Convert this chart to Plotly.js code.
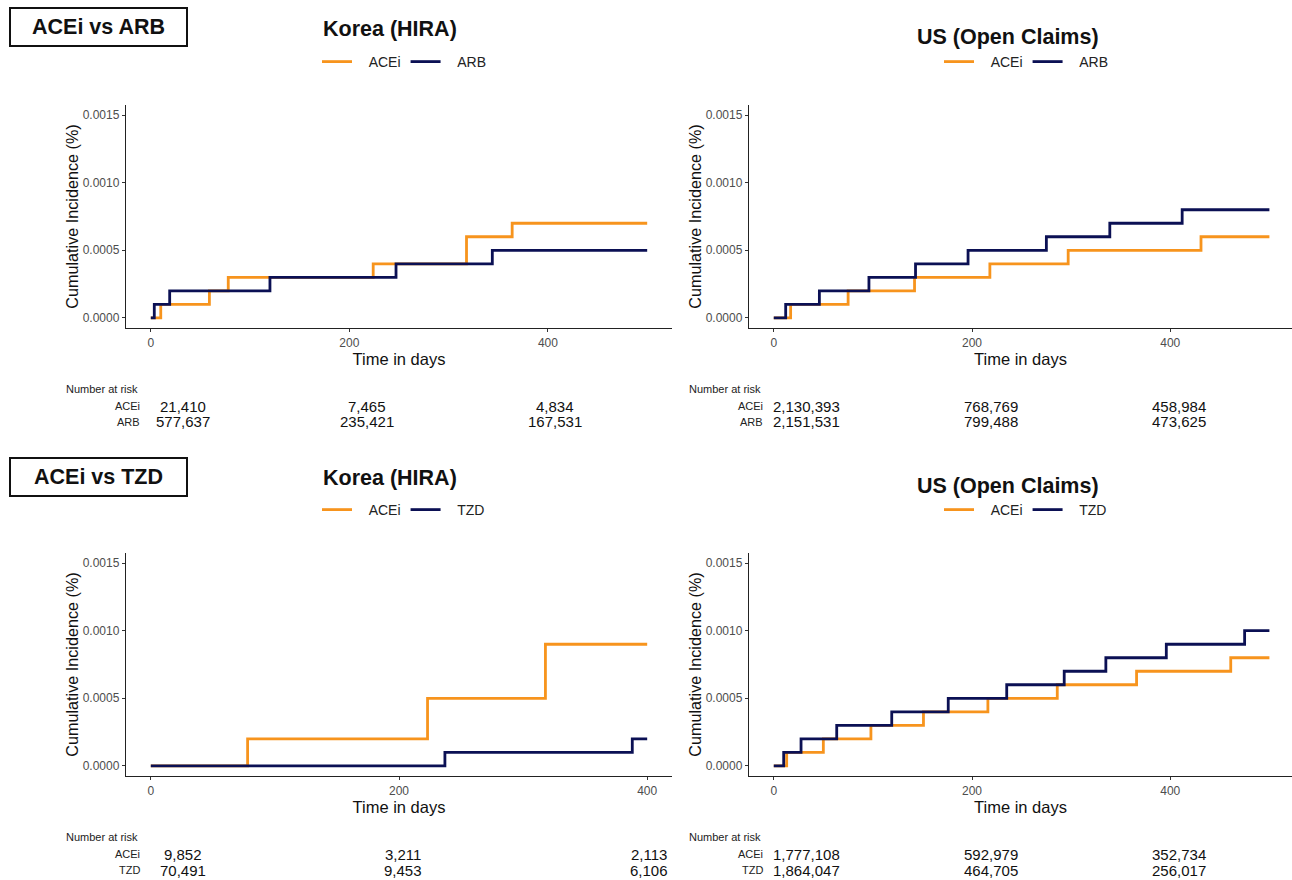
<!DOCTYPE html>
<html>
<head>
<meta charset="utf-8">
<script src="https://cdn.plot.ly/plotly-3.0.1.min.js"></script>
<style>
  html, body { margin: 0; padding: 0; background: #ffffff; }
  #chart { width: 1292px; height: 880px; }
</style>
</head>
<body>
<div id="chart"></div>
<script>
// ---------------- DATA ----------------
// Panel A: ACEi vs ARB, Korea (HIRA)
const krArbAceiDays = [0, 10, 59, 78, 224, 318, 364, 500];
const krArbAceiInc  = [0, 0.0001, 0.0002, 0.0003, 0.0004, 0.0006, 0.0007, 0.0007];
const krArbArbDays  = [0, 3.5, 19, 120, 247, 344, 500];
const krArbArbInc   = [0, 0.0001, 0.0002, 0.0003, 0.0004, 0.0005, 0.0005];

// Panel B: ACEi vs ARB, US (Open Claims)
const usArbAceiDays = [0, 17, 75, 142, 218, 297, 431, 500];
const usArbAceiInc  = [0, 0.0001, 0.0002, 0.0003, 0.0004, 0.0005, 0.0006, 0.0006];
const usArbArbDays  = [0, 12, 46, 96, 143, 196, 275, 339, 412, 500];
const usArbArbInc   = [0, 0.0001, 0.0002, 0.0003, 0.0004, 0.0005, 0.0006, 0.0007, 0.0008, 0.0008];

// Panel C: ACEi vs TZD, Korea (HIRA)
const krTzdAceiDays = [0, 78, 223, 318, 400];
const krTzdAceiInc  = [0, 0.0002, 0.0005, 0.0009, 0.0009];
const krTzdTzdDays  = [0, 237, 388, 400];
const krTzdTzdInc   = [0, 0.0001, 0.0002, 0.0002];

// Panel D: ACEi vs TZD, US (Open Claims)
const usTzdAceiDays = [0, 13, 50, 98, 151, 216, 286, 366, 461, 500];
const usTzdAceiInc  = [0, 0.0001, 0.0002, 0.0003, 0.0004, 0.0005, 0.0006, 0.0007, 0.0008, 0.0008];
const usTzdTzdDays  = [0, 10, 27.5, 63.5, 119, 176, 235, 293, 335, 396, 475, 500];
const usTzdTzdInc   = [0, 0.0001, 0.0002, 0.0003, 0.0004, 0.0005, 0.0006, 0.0007, 0.0008, 0.0009, 0.0010, 0.0010];

// Number at risk
const riskArbKrAcei = ["21,410", "7,465", "4,834"];
const riskArbKrArb  = ["577,637", "235,421", "167,531"];
const riskArbUsAcei = ["2,130,393", "768,769", "458,984"];
const riskArbUsArb  = ["2,151,531", "799,488", "473,625"];
const riskTzdKrAcei = ["9,852", "3,211", "2,113"];
const riskTzdKrTzd  = ["70,491", "9,453", "6,106"];
const riskTzdUsAcei = ["1,777,108", "592,979", "352,734"];
const riskTzdUsTzd  = ["1,864,047", "464,705", "256,017"];

const yTickVals = [0, 0.0005, 0.0010, 0.0015];
const yTickText = ["0.0000", "0.0005", "0.0010", "0.0015"];
const xTickVals = [0, 200, 400];

// ---------------- STYLE ----------------
const W = 1292, H = 880;
const ORANGE = "#F7941D";
const NAVY = "#0B1054";
const FONT = "Liberation Sans, Arial, sans-serif";
const PAD = "\u00a0\u00a0\u00a0";

const px = v => v / W;
const py = v => 1 - v / H;

function stepTrace(x, y, name, color, xa, ya, legend) {
  return {
    type: "scatter", mode: "lines", x: x, y: y, name: PAD + name,
    line: { shape: "hv", color: color, width: 2.8 },
    xaxis: xa, yaxis: ya, legend: legend, showlegend: true,
    hoverinfo: "skip"
  };
}

const traces = [
  stepTrace(krArbAceiDays, krArbAceiInc, "ACEi", ORANGE, "x", "y", "legend"),
  stepTrace(krArbArbDays, krArbArbInc, "ARB", NAVY, "x", "y", "legend"),
  stepTrace(usArbAceiDays, usArbAceiInc, "ACEi", ORANGE, "x2", "y2", "legend2"),
  stepTrace(usArbArbDays, usArbArbInc, "ARB", NAVY, "x2", "y2", "legend2"),
  stepTrace(krTzdAceiDays, krTzdAceiInc, "ACEi", ORANGE, "x3", "y3", "legend3"),
  stepTrace(krTzdTzdDays, krTzdTzdInc, "TZD", NAVY, "x3", "y3", "legend3"),
  stepTrace(usTzdAceiDays, usTzdAceiInc, "ACEi", ORANGE, "x4", "y4", "legend4"),
  stepTrace(usTzdTzdDays, usTzdTzdInc, "TZD", NAVY, "x4", "y4", "legend4")
];

const LEFT_DOM = [px(126), px(672)];
const RIGHT_DOM = [px(749), 1];
const TOP_DOM = [py(328), py(105)];
const BOT_DOM = [py(776), py(553)];

function xAxis(domain, range, anchor) {
  return {
    domain: domain, range: range, anchor: anchor,
    tickvals: xTickVals, ticks: "outside", ticklen: 3, tickwidth: 1, tickcolor: "#333",
    showline: true, linecolor: "#222", linewidth: 1.2,
    showgrid: false, zeroline: false,
    tickfont: { family: FONT, size: 12, color: "#4d4d4d" },
    title: { text: "Time in days", font: { family: FONT, size: 16.5, color: "#111" }, standoff: 0 },
    automargin: false, fixedrange: true
  };
}
function yAxis(domain, anchor) {
  return {
    domain: domain, range: [-0.000075, 0.001575], anchor: anchor,
    tickvals: yTickVals, ticktext: yTickText, ticks: "outside", ticklen: 3, tickwidth: 1, tickcolor: "#333",
    showline: true, linecolor: "#222", linewidth: 1.2,
    showgrid: false, zeroline: false,
    tickfont: { family: FONT, size: 12, color: "#4d4d4d" },
    title: { text: "Cumulative Incidence (%)", font: { family: FONT, size: 16.2, color: "#111" }, standoff: 0 },
    automargin: false, fixedrange: true
  };
}

function legendCfg(xPix, yPix) {
  return {
    orientation: "h", x: px(xPix), y: py(yPix), xanchor: "left", yanchor: "middle",
    font: { family: FONT, size: 14, color: "#222" }, itemwidth: 30,
    bgcolor: "rgba(0,0,0,0)", borderwidth: 0, traceorder: "normal"
  };
}

const annotations = [];
function addText(text, xPix, yPix, size, anchor, bold, color) {
  annotations.push({
    text: bold ? "<b>" + text + "</b>" : text,
    x: px(xPix), y: py(yPix), xref: "paper", yref: "paper",
    xanchor: anchor, yanchor: "middle", showarrow: false,
    font: { family: FONT, size: size, color: color || "#111" }
  });
}
function addBox(text, x0, y0, x1, y1) {
  annotations.push({
    text: "<b>" + text + "</b>",
    x: px((x0 + x1) / 2), y: py((y0 + y1) / 2), xref: "paper", yref: "paper",
    xanchor: "center", yanchor: "middle", showarrow: false,
    width: x1 - x0 - 4, height: y1 - y0 - 4, borderpad: 0,
    bordercolor: "#111", borderwidth: 2, bgcolor: "#ffffff",
    font: { family: FONT, size: 21.5, color: "#111" }
  });
}

// Group boxes & panel titles
addBox("ACEi vs ARB", 9, 7, 188, 47);
addBox("ACEi vs TZD", 9, 457, 188, 497);
addText("Korea (HIRA)", 390, 29, 21.5, "center", true);
addText("US (Open Claims)", 1008, 37, 21.5, "center", true);
addText("Korea (HIRA)", 390, 478, 21.5, "center", true);
addText("US (Open Claims)", 1008, 486, 21.5, "center", true);

// Risk tables
function riskTable(labelX, rowLabelRight, rowLabels, rows, colCenters, yTop) {
  addText("Number at risk", labelX, yTop, 11, "left", false, "#222");
  rows.forEach((vals, r) => {
    const yy = yTop + 17 + r * 16;
    addText(rowLabels[r], rowLabelRight, yy, 11, "right", false, "#222");
    vals.forEach((v, c) => addText(v, colCenters[c], yy, 15, "center", false, "#111"));
  });
}
riskTable(64, 142, ["ACEi", "ARB"], [riskArbKrAcei, riskArbKrArb], [183, 367, 555], 389);
riskTable(687, 765, ["ACEi", "ARB"], [riskArbUsAcei, riskArbUsArb], [806, 991, 1179], 389);
riskTable(64, 142, ["ACEi", "TZD"], [riskTzdKrAcei, riskTzdKrTzd], [183, 403, 649], 837);
riskTable(687, 765, ["ACEi", "TZD"], [riskTzdUsAcei, riskTzdUsTzd], [806, 991, 1179], 837);

const layout = {
  width: W, height: H,
  margin: { l: 0, r: 0, t: 0, b: 0 },
  paper_bgcolor: "#ffffff", plot_bgcolor: "#ffffff",
  font: { family: FONT },
  xaxis: xAxis(LEFT_DOM, [-25, 525], "y"),
  yaxis: yAxis(TOP_DOM, "x"),
  xaxis2: xAxis(RIGHT_DOM, [-25, 522.8], "y2"),
  yaxis2: yAxis(TOP_DOM, "x2"),
  xaxis3: xAxis(LEFT_DOM, [-20, 420], "y3"),
  yaxis3: yAxis(BOT_DOM, "x3"),
  xaxis4: xAxis(RIGHT_DOM, [-25, 522.8], "y4"),
  yaxis4: yAxis(BOT_DOM, "x4"),
  legend: legendCfg(317, 62),
  legend2: legendCfg(939, 62),
  legend3: legendCfg(317, 510),
  legend4: legendCfg(939, 510),
  annotations: annotations,
  showlegend: true
};

Plotly.newPlot("chart", traces, layout, { staticPlot: true, displayModeBar: false });
</script>
</body>
</html>
